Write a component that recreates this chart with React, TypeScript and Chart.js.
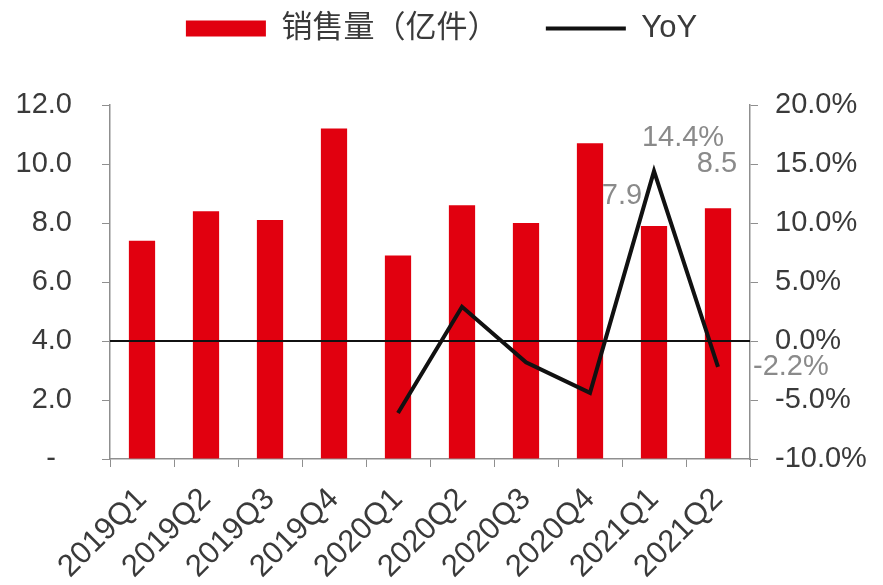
import React, { useEffect, useRef } from 'react';
import { Chart, registerables } from 'chart.js';

Chart.register(...registerables);

// ---- data ----
const categories = ['2019Q1', '2019Q2', '2019Q3', '2019Q4', '2020Q1', '2020Q2', '2020Q3', '2020Q4', '2021Q1', '2021Q2'];
const salesValues = [7.4, 8.4, 8.1, 11.2, 6.9, 8.6, 8.0, 10.7, 7.9, 8.5];
const yoyValues: (number | null)[] = [null, null, null, null, -6.1, 2.9, -1.8, -4.4, 14.4, -2.2];
const labeledIndices = [8, 9];
const leftRange = [0, 12, 2];
const rightRange = [-10, 20, 5];
const salesLabel = '销售量（亿件）';
const yoyLabel = 'YoY';

// ---- styles ----
const FONT = '"Liberation Sans", Arial, "Noto Sans CJK SC", sans-serif';
const RED = '#E1000F';
const AXIS_GREY = '#8f8f8f';
const TEXT = '#3a3a3a';
const LABEL_GREY = '#8a8a8a';
const FS = 29;
const LEGEND_FS = 31;
const XTICK_FS = 31;

// offsets of value labels relative to their marks
const barLabelOffset: Record<number, [number, number]> = { 8: [-32, -30], 9: [-1, -44] };
const lineLabelOffset: Record<number, [number, number, CanvasTextAlign]> = { 8: [29, -33, 'center'], 9: [35, 0, 'left'] };

const zeroLinePlugin = {
  id: 'zeroLine',
  afterDatasetDraw(chart: any, args: any) {
    if (args.index !== 0) return;
    const { ctx, chartArea } = chart;
    const y = chart.scales.y1.getPixelForValue(0);
    ctx.save();
    ctx.strokeStyle = '#111';
    ctx.lineWidth = 2;
    ctx.beginPath();
    ctx.moveTo(chartArea.left, y);
    ctx.lineTo(chartArea.right, y);
    ctx.stroke();
    ctx.restore();
  },
};

const valueLabelPlugin = {
  id: 'valueLabels',
  afterDatasetsDraw(chart: any) {
    const ctx = chart.ctx;
    const barMeta = chart.getDatasetMeta(0);
    const lineMeta = chart.getDatasetMeta(1);
    ctx.save();
    ctx.font = `${FS}px ${FONT}`;
    ctx.fillStyle = LABEL_GREY;
    ctx.textBaseline = 'middle';
    labeledIndices.forEach((i) => {
      const bar = barMeta.data[i];
      const bo = barLabelOffset[i];
      ctx.textAlign = 'center';
      ctx.fillText(salesValues[i].toFixed(1), bar.x + bo[0], bar.y + bo[1]);
      const pt = lineMeta.data[i];
      const lo = lineLabelOffset[i];
      const v = yoyValues[i];
      if (v !== null) {
        ctx.textAlign = lo[2];
        ctx.fillText(`${v.toFixed(1)}%`, pt.x + lo[0], pt.y + lo[1]);
      }
    });
    ctx.restore();
  },
};

const legendSpacerPlugin = {
  id: 'legendSpacer',
  beforeInit(chart: any) {
    const origFit = chart.legend.fit;
    chart.legend.fit = function fit() {
      origFit.bind(chart.legend)();
      this.height += 51;
    };
  },
};

export default function App() {
  const canvasRef = useRef<HTMLCanvasElement | null>(null);

  useEffect(() => {
    if (!canvasRef.current) return;
    const chart = new Chart(canvasRef.current, {
      type: 'bar',
      data: {
        labels: categories,
        datasets: [
          {
            type: 'bar',
            label: salesLabel,
            data: salesValues,
            backgroundColor: RED,
            barPercentage: 0.41,
            categoryPercentage: 1,
            yAxisID: 'y',
            order: 2,
          },
          {
            type: 'line',
            label: yoyLabel,
            data: yoyValues,
            borderColor: '#111',
            borderWidth: 4,
            pointRadius: 0,
            tension: 0,
            yAxisID: 'y1',
            order: 1,
          },
        ],
      } as any,
      options: {
        animation: false,
        responsive: true,
        maintainAspectRatio: false,
        layout: { padding: 0 },
        plugins: {
          tooltip: { enabled: false },
          legend: {
            position: 'top',
            labels: {
              usePointStyle: true,
              pointStyleWidth: 80,
              boxHeight: 16,
              padding: 13,
              color: TEXT,
              font: { size: LEGEND_FS, family: FONT },
              generateLabels: () => [
                { text: salesLabel + '    ', fillStyle: RED, strokeStyle: RED, lineWidth: 0, pointStyle: 'rect', datasetIndex: 0, hidden: false, fontColor: TEXT } as any,
                { text: yoyLabel, fillStyle: '#111', strokeStyle: '#111', lineWidth: 4, pointStyle: 'line', datasetIndex: 1, hidden: false, fontColor: TEXT } as any,
              ],
            },
          },
        },
        scales: {
          x: {
            offset: true,
            grid: { display: true, drawOnChartArea: false, drawTicks: true, tickLength: 8, color: AXIS_GREY, offset: true },
            border: { display: true, color: AXIS_GREY, width: 1.5 },
            ticks: { color: TEXT, font: { size: XTICK_FS, family: FONT }, minRotation: 45, maxRotation: 45, padding: 14, autoSkip: false },
            afterFit(scale: any) { scale.height = 126; },
          },
          y: {
            position: 'left',
            min: leftRange[0],
            max: leftRange[1],
            grid: { display: true, drawOnChartArea: false, drawTicks: true, tickLength: 8, color: AXIS_GREY },
            border: { display: true, color: AXIS_GREY, width: 1.5 },
            ticks: {
              stepSize: leftRange[2],
              color: TEXT,
              font: { size: FS, family: FONT },
              padding: 30,
              callback: (v: any) => (Number(v) === 0 ? '-  ' : Number(v).toFixed(1)),
            },
            afterFit(scale: any) { scale.width = 110; },
          },
          y1: {
            position: 'right',
            min: rightRange[0],
            max: rightRange[1],
            grid: { display: true, drawOnChartArea: false, drawTicks: true, tickLength: 8, color: AXIS_GREY },
            border: { display: true, color: AXIS_GREY, width: 1.5 },
            ticks: {
              stepSize: rightRange[2],
              color: TEXT,
              font: { size: FS, family: FONT },
              padding: 17,
              callback: (v: any) => `${Number(v).toFixed(1)}%`,
            },
            afterFit(scale: any) { scale.width = 133; },
          },
        },
      } as any,
      plugins: [legendSpacerPlugin, zeroLinePlugin, valueLabelPlugin],
    });
    return () => chart.destroy();
  }, []);

  return (
    <div style={{ position: 'fixed', left: 0, top: 0, width: 883, height: 585, background: '#fff' }}>
      <canvas ref={canvasRef} />
    </div>
  );
}
